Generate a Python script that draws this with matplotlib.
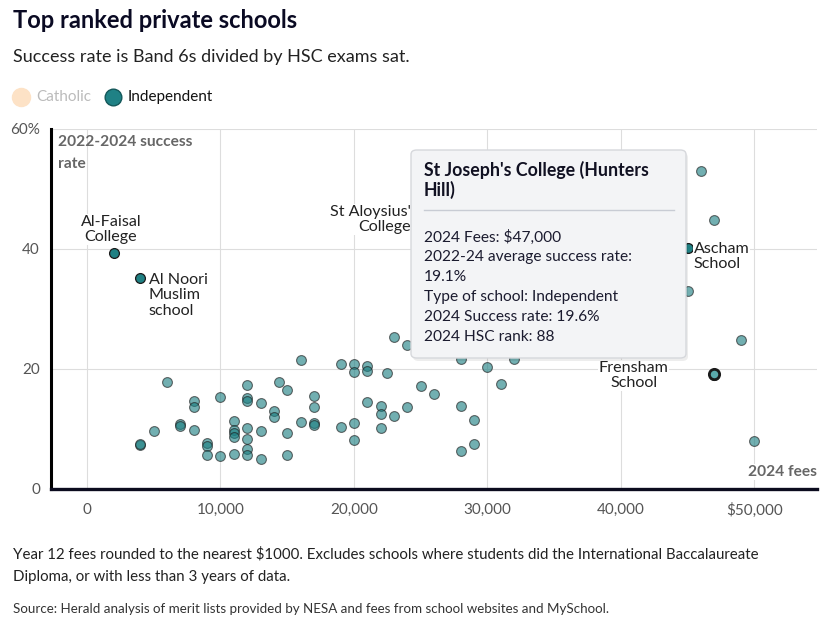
import matplotlib
matplotlib.use("Agg")
import matplotlib.pyplot as plt
from matplotlib.patches import FancyBboxPatch
from matplotlib.lines import Line2D
from matplotlib.ticker import FuncFormatter

plt.rcParams["font.family"] = ["Lato", "DejaVu Sans"]

# 2024 fees in $ thousands, 2022-2024 success rate in %
fees = [4, 4, 5, 6, 7, 7, 8, 8, 8, 9, 9, 9, 10, 10,
        11, 11, 11, 11, 11, 12, 12, 12, 12, 12, 12, 12,
        13, 13, 13, 14, 14, 14.4, 15, 15, 15, 16, 16,
        17, 17, 17, 17, 19, 19, 20, 20, 20, 20, 21, 21, 21,
        22, 22, 22, 22.5, 23, 23, 24, 24, 25, 26,
        28, 28, 28, 29, 29, 30, 31, 32, 45, 46, 47, 49, 50]
rate = [7.4, 7.5, 9.6, 17.9, 10.9, 10.5, 14.6, 13.6, 9.8, 7.6, 7.1, 5.7, 15.4, 5.5,
        11.4, 9.8, 9.3, 8.7, 5.8, 17.3, 15.1, 14.6, 10.1, 8.3, 6.6, 5.7,
        14.3, 9.6, 5.05, 13.05, 12.05, 17.9, 16.5, 9.3, 5.6, 21.5, 11.2,
        15.55, 13.6, 11.05, 10.7, 20.9, 10.4, 20.9, 19.45, 11.0, 8.1, 20.5, 19.6, 14.55,
        13.8, 12.5, 10.2, 19.3, 25.4, 12.1, 24.05, 13.7, 17.2, 15.9,
        21.6, 13.8, 6.3, 11.5, 7.55, 20.4, 17.5, 21.6, 33.05, 53.0, 44.9, 24.9, 8.05]

named_schools = ["Al-Faisal\nCollege", "Al Noori\nMuslim\nschool", "St Aloysius'\nCollege",
                 "Ascham\nSchool", "Frensham\nSchool"]
named_fees = [2, 4, 25, 45, 47]
named_rate = [39.4, 35.2, 43.5, 40.1, 19.0]

# hovered school shown in the tooltip
tip_school = "St Joseph's College (Hunters\nHill)"
tip_fee = 47
tip_rate = 19.1
tip_type = "Independent"
tip_rate_2024 = 19.6
tip_rank = 88

x_ticks = [0, 10, 20, 30, 40, 50]
y_ticks = [0, 20, 40, 60]

W, H = 822, 627


def fx(px):
    return px / W


def fy(py):
    return 1 - py / H


fig = plt.figure(figsize=(W / 100, H / 100), dpi=100)
ax = fig.add_axes([fx(51), fy(489), (817 - 51) / W, (489 - 129) / H])

ax.set_xlim(-2.7, 54.7)
ax.set_ylim(0, 60)
ax.set_xticks(x_ticks)
ax.set_yticks(y_ticks)
ax.xaxis.set_major_formatter(FuncFormatter(
    lambda v, p: ("\\$" if v == x_ticks[-1] else "") + f"{v * 1000:,.0f}"))
ax.yaxis.set_major_formatter(FuncFormatter(
    lambda v, p: f"{v:.0f}%" if v == y_ticks[-1] else f"{v:.0f}"))
ax.tick_params(length=0, labelsize=11, labelcolor="#555555")
ax.tick_params(axis="x", pad=10)
ax.tick_params(axis="y", pad=8)
ax.grid(color="#dddddd", linewidth=0.8)
ax.set_axisbelow(True)
for s in ["top", "right"]:
    ax.spines[s].set_visible(False)
ax.spines["left"].set_linewidth(2.2)
ax.spines["left"].set_color("black")
ax.spines["bottom"].set_linewidth(2.4)
ax.spines["bottom"].set_color("#0b0b1e")

ax.scatter(fees, rate, s=50, c="#1c7f82", alpha=0.62,
           edgecolors="#1a1a1a", linewidths=0.8, zorder=3)
ax.scatter(named_fees, named_rate, s=50, c="#1f8083",
           edgecolors="#1a1a1a", linewidths=0.9, zorder=4)
ax.scatter([tip_fee], [tip_rate], s=55, c="#5aa9ab",
           edgecolors="#1a1a1a", linewidths=2, zorder=5)

offsets = [(-2, 6, "center", "bottom"), (6, 3.5, "left", "top"),
           (-7, 16.5, "right", "top"), (4.5, 4.5, "left", "top"),
           (-58, 10, "center", "top")]
for name, f, r, (dx, dy, ha, va) in zip(named_schools, named_fees, named_rate, offsets):
    ax.annotate(name, (f, r), xytext=(dx, dy), textcoords="offset points",
                ha=ha, va=va, multialignment=ha,
                fontsize=11.6, color="#222222", linespacing=1.12,
                bbox=dict(fc="white", ec="none", pad=0.5), zorder=6)

fig.text(fx(58), fy(135), "2022-2024 success\nrate", ha="left", va="top",
         fontsize=11.2, fontweight="bold", color="#666666", linespacing=1.75)
fig.text(fx(817), fy(472), "2024 fees", ha="right", va="center",
         fontsize=11.2, fontweight="bold", color="#666666",
         bbox=dict(fc="white", ec="none", pad=1))

# title, subtitle, legend
fig.text(fx(13), fy(21), "Top ranked private schools", ha="left", va="center",
         fontsize=17, fontweight="bold", color="#0a0a23")
fig.text(fx(13), fy(57), "Success rate is Band 6s divided by HSC exams sat.",
         ha="left", va="center", fontsize=13, color="#222222")
fig.add_artist(Line2D([fx(21)], [fy(97)], marker="o", ms=13, mfc="#fde2c6",
                      mec="#fde2c6", transform=fig.transFigure))
fig.text(fx(36), fy(97), "Catholic", ha="left", va="center", fontsize=11, color="#bbbbbb")
fig.add_artist(Line2D([fx(113)], [fy(97)], marker="o", ms=12, mfc="#1f8185",
                      mec="#14585a", mew=1, transform=fig.transFigure))
fig.text(fx(128), fy(97), "Independent", ha="left", va="center", fontsize=11, color="#111111")

# tooltip
shadow = FancyBboxPatch((fx(413), fy(361)), (686 - 411) / W, (358 - 150) / H,
                        boxstyle="round,pad=0,rounding_size=0.007", transform=fig.transFigure,
                        fc="black", ec="none", alpha=0.07, zorder=8)
fig.add_artist(shadow)
box = FancyBboxPatch((fx(411), fy(358)), (686 - 411) / W, (358 - 150) / H,
                     boxstyle="round,pad=0,rounding_size=0.007", transform=fig.transFigure,
                     fc="#f3f4f6", ec="#d6d8dc", lw=1, zorder=9)
fig.add_artist(box)
fig.text(fx(424), fy(161), tip_school, ha="left", va="top", fontsize=12.8,
         fontweight="bold", color="#111122", linespacing=1.1, zorder=10)
fig.add_artist(Line2D([fx(424), fx(674)], [fy(210), fy(210)], color="#c8ccd4",
                      lw=1, transform=fig.transFigure, zorder=10))
tip_lines = [f"2024 Fees: \\${tip_fee * 1000:,}",
             "2022-24 average success rate:",
             f"{tip_rate}%",
             f"Type of school: {tip_type}",
             f"2024 Success rate: {tip_rate_2024}%",
             f"2024 HSC rank: {tip_rank}"]
for i, line in enumerate(tip_lines):
    fig.text(fx(424), fy(237 + 20 * i), line, ha="left", va="center",
             fontsize=11.2, color="#1b1b2f", zorder=10)

# notes
fig.text(fx(13), fy(554), "Year 12 fees rounded to the nearest \\$1000. Excludes schools where "
         "students did the International Baccalaureate", ha="left", va="center",
         fontsize=10.85, color="#222222")
fig.text(fx(13), fy(577), "Diploma, or with less than 3 years of data.", ha="left",
         va="center", fontsize=10.85, color="#222222")
fig.text(fx(13), fy(609), "Source: Herald analysis of merit lists provided by NESA and fees "
         "from school websites and MySchool.", ha="left", va="center",
         fontsize=9.6, color="#333333")

fig.savefig("out.png", dpi=100, facecolor="white")
